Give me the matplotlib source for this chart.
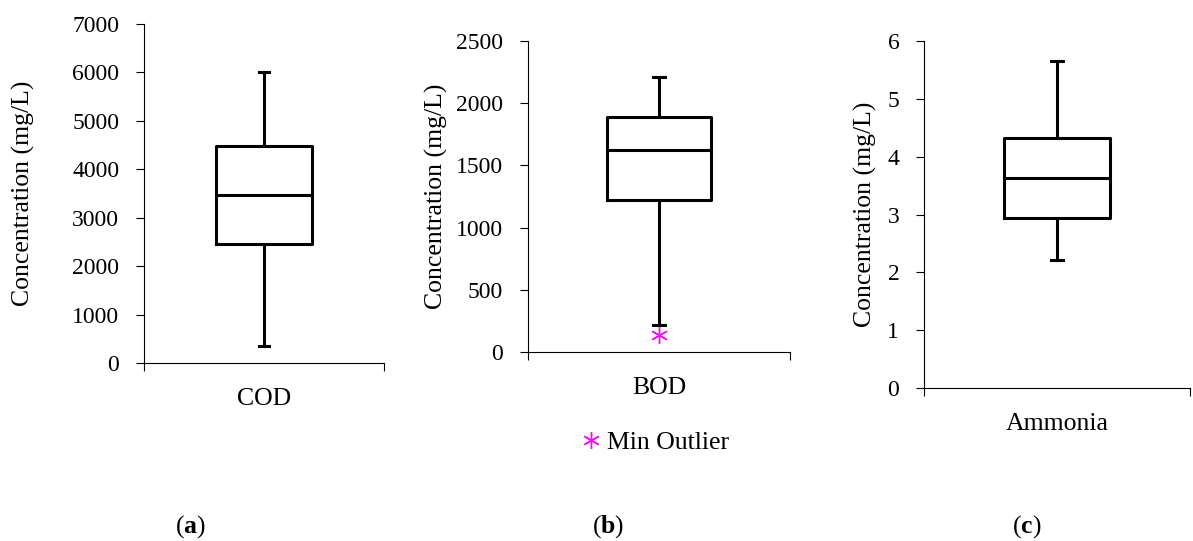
import numpy as np
import matplotlib.pyplot as plt
from matplotlib.ticker import FixedLocator

plt.rcParams['font.family'] = ['Liberation Serif', 'DejaVu Serif']
plt.rcParams['mathtext.fontset'] = 'custom'
plt.rcParams['mathtext.rm'] = 'Liberation Serif'
plt.rcParams['mathtext.bf'] = 'Liberation Serif:bold'

# box stats: low whisker, Q1, median, Q3, high whisker
names = ["COD", "BOD", "Ammonia"]
whis_low = [350, 217, 2.21]
q1 = [2455, 1222, 2.94]
median = [3470, 1624, 3.63]
q3 = [4485, 1889, 4.32]
whis_high = [6000, 2211, 5.65]
bod_outlier = [137]
y_max = [7000, 2500, 6]
y_step = [1000, 500, 1]
panel_tags = ["a", "b", "c"]

fig = plt.figure(figsize=(11.93, 5.41), dpi=100)
# axes rectangles [left, bottom, width, height] in figure fraction
rects = [[0.1207, 0.329, 0.2012, 0.6266],
         [0.4426, 0.3494, 0.2196, 0.5748],
         [0.7745, 0.2828, 0.2230, 0.6414]]
ylab_x = [-0.454, -0.305, -0.175]
tag_x = [190, 608, 1027]

lw = 2.2
for i in range(3):
    ax = fig.add_axes(rects[i])
    stats = [dict(whislo=whis_low[i], q1=q1[i], med=median[i], q3=q3[i],
                  whishi=whis_high[i], fliers=[], label=names[i])]
    ax.bxp(stats, positions=[1], widths=0.4, capwidths=0.045, showfliers=False,
           boxprops=dict(color='black', linewidth=lw),
           whiskerprops=dict(color='black', linewidth=lw),
           capprops=dict(color='black', linewidth=lw),
           medianprops=dict(color='black', linewidth=lw))
    if i == 1:
        ax.plot([1] * len(bod_outlier), bod_outlier, linestyle='none',
                marker=(6, 2, 0), markersize=12, markeredgewidth=1.0,
                color='#FF00FF', label='Min Outlier', clip_on=False)
        ax.legend(loc='center', bbox_to_anchor=(0.485, -0.29), frameon=False,
                  fontsize=18.5, handlelength=0.8, handletextpad=0.2)
    ax.set_xlim(0.5, 1.5)
    ax.set_ylim(0, y_max[i])
    ax.set_yticks(np.arange(0, y_max[i] + y_step[i] / 2, y_step[i]))
    ax.set_xticks([1])
    ax.set_xticklabels([names[i]])
    ax.xaxis.set_minor_locator(FixedLocator([0.5, 1.5]))
    ax.tick_params(axis='x', which='major', length=0, pad=18, labelsize=18.5)
    ax.tick_params(axis='x', which='minor', length=5.5, width=0.8, direction='out')
    ax.tick_params(axis='y', length=5.8, width=0.8, direction='out', pad=12,
                   labelsize=17)
    for s in ['top', 'right']:
        ax.spines[s].set_visible(False)
    for s in ['left', 'bottom']:
        ax.spines[s].set_linewidth(0.8)
    ax.set_ylabel("Concentration (mg/L)", fontsize=18.5)
    ax.yaxis.set_label_coords(ylab_x[i], 0.5)
    fig.text(tag_x[i] / 1193, 1 - 527 / 541, r"($\mathbf{%s}$)" % panel_tags[i],
             ha='center', va='center', fontsize=18.5)

fig.savefig("out.png", dpi=100)
